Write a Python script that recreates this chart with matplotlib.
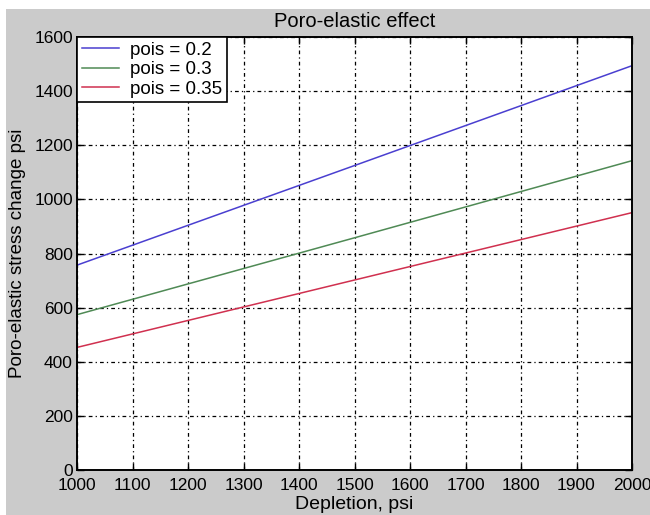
import matplotlib.pyplot as plt
from matplotlib.patches import Rectangle

plt.rcParams['font.family'] = ['Liberation Sans', 'DejaVu Sans']

depletion = [1000, 1500, 2000]
pois_02 = [757, 1125, 1494]
pois_03 = [574, 858, 1143]
pois_035 = [453, 702, 951]

labels = ['pois = 0.2', 'pois = 0.3', 'pois = 0.35']
colors = ['#4a3fd0', '#4f8a55', '#d0304f']

fig = plt.figure(figsize=(6.5, 5.15), dpi=100, facecolor='white')
fig.patches.append(Rectangle((6/650, 0), 1, (515-9)/515, transform=fig.transFigure,
                             facecolor='#cbcbcb', edgecolor='none', zorder=-10))
ax = fig.add_axes([77/650, 1 - 470/515, (632-77)/650, (470-37)/515])
ax.set_facecolor('white')

for ys, c, lab in zip([pois_02, pois_03, pois_035], colors, labels):
    ax.plot(depletion, ys, color=c, lw=1.1, label=lab)

ax.set_xlim(1000, 2000)
ax.set_ylim(0, 1600)
ax.set_xticks(range(1000, 2001, 100))
ax.set_yticks(range(0, 1601, 200))
ax.grid(True, color='black', lw=0.9, linestyle=(0, (3, 2.5, 1, 2.5)))
ax.tick_params(direction='in', top=True, right=True, length=5, width=1, labelsize=12.5)
ax.tick_params(axis='x', pad=6)
ax.tick_params(axis='y', pad=3)
for s in ax.spines.values():
    s.set_linewidth(1.4)

ax.set_title('Poro-elastic effect', fontsize=14.5, pad=7)
ax.set_xlabel('Depletion, psi', fontsize=14, labelpad=2)
ax.set_ylabel('Poro-elastic stress change psi', fontsize=13.5, labelpad=6)

leg = ax.legend(loc='upper left', fontsize=13.5, fancybox=False, framealpha=1,
                edgecolor='black', borderaxespad=0, handlelength=2.0,
                borderpad=0.25, labelspacing=0.12, handletextpad=0.6)
leg.get_frame().set_linewidth(1.2)

fig.savefig('out.png', dpi=100, facecolor=fig.get_facecolor())
